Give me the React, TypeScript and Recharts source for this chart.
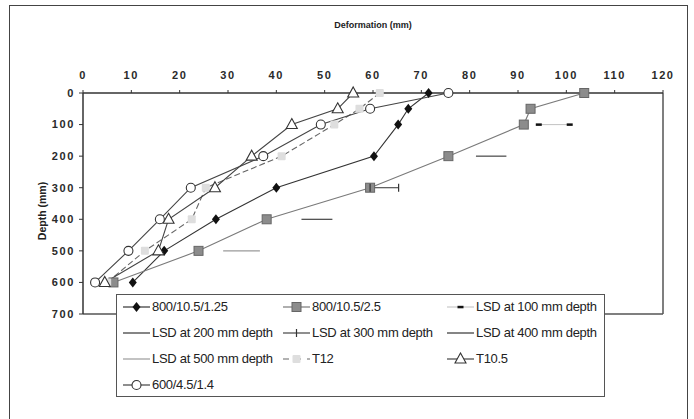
import React from "react"
import { LineChart, Line, XAxis, YAxis, ReferenceLine } from "recharts"

// depth (mm) shared by the test series
const depths = [0, 50, 100, 200, 300, 400, 500, 600]

// deformation (mm)
const def800_125 = [71.5, 67.3, 65.2, 60.2, 40, 27.5, 16.8, 10.3]
const def800_25 = [103.7, 92.6, 91.2, 75.6, 59.4, 38, 23.9, 6.3]
const defT12 = [61.4, 57.2, 52, 41.1, 25.4, 22.5, 12.8, 5]
const defT105 = [55.9, 52.7, 43.2, 34.9, 27.3, 17.7, 15.6, 4.5]
const def600 = [75.6, 59.4, 49.2, 37.3, 22.3, 15.9, 9.4, 2.5]

// LSD bars: [start, end] deformation at a given depth
const lsd100 = [94.3, 100.7]
const lsd200 = [81.3, 87.6]
const lsd300 = [59.4, 65.3]
const lsd400 = [45.2, 51.6]
const lsd500 = [29, 36.6]

const xTicks = [0, 10, 20, 30, 40, 50, 60, 70, 80, 90, 100, 110, 120]
const yTicks = [0, 100, 200, 300, 400, 500, 600, 700]

type MarkerKind = "diamond" | "square" | "dash" | "plus" | "light" | "triangle" | "circle" | "none"

interface Series {
  name: string
  data: { x: number; y: number }[]
  stroke: string
  dash?: string
  marker: MarkerKind
}

const pts = (xs: number[], ys: number[]) => xs.map((x, i) => ({ x, y: ys[i] }))
const bar = (xs: number[], depth: number) => xs.map((x) => ({ x, y: depth }))

const series: Series[] = [
  { name: "800/10.5/1.25", data: pts(def800_125, depths), stroke: "#333", marker: "diamond" },
  { name: "800/10.5/2.5", data: pts(def800_25, depths), stroke: "#7a7a7a", marker: "square" },
  { name: "LSD at 100 mm depth", data: bar(lsd100, 100), stroke: "#c8c8c8", marker: "dash" },
  { name: "LSD at 200 mm depth", data: bar(lsd200, 200), stroke: "#333", marker: "none" },
  { name: "LSD at 300 mm depth", data: bar(lsd300, 300), stroke: "#444", marker: "plus" },
  { name: "LSD at 400 mm depth", data: bar(lsd400, 400), stroke: "#333", marker: "none" },
  { name: "LSD at 500 mm depth", data: bar(lsd500, 500), stroke: "#9a9a9a", marker: "none" },
  { name: "T12", data: pts(defT12, depths), stroke: "#666", dash: "6 3", marker: "light" },
  { name: "T10.5", data: pts(defT105, depths), stroke: "#444", marker: "triangle" },
  { name: "600/4.5/1.4", data: pts(def600, depths), stroke: "#444", marker: "circle" },
]

function Marker({ kind, cx, cy }: { kind: MarkerKind; cx: number; cy: number }) {
  switch (kind) {
    case "diamond":
      return <polygon points={`${cx},${cy - 5} ${cx + 4},${cy} ${cx},${cy + 5} ${cx - 4},${cy}`} fill="#111" />
    case "square":
      return <rect x={cx - 4.5} y={cy - 4.5} width={9} height={9} fill="#8c8c8c" stroke="#666" />
    case "dash":
      return <rect x={cx - 3} y={cy - 1.2} width={6} height={2.5} fill="#111" />
    case "plus":
      return <line x1={cx} y1={cy - 4} x2={cx} y2={cy + 4} stroke="#333" strokeWidth={1.2} />
    case "light":
      return <rect x={cx - 4} y={cy - 4} width={8} height={8} rx={1} fill="#dedede" />
    case "triangle":
      return (
        <polygon
          points={`${cx},${cy - 6} ${cx + 5.5},${cy + 4} ${cx - 5.5},${cy + 4}`}
          fill="#fff"
          stroke="#333"
          strokeWidth={1.1}
        />
      )
    case "circle":
      return <circle cx={cx} cy={cy} r={4.5} fill="#fff" stroke="#333" strokeWidth={1.1} />
    default:
      return null
  }
}

function makeDot(kind: MarkerKind) {
  return (props: any) => (
    <g key={`d-${props.index}-${props.cx}`}>
      {props.cx != null && <Marker kind={kind} cx={props.cx} cy={props.cy} />}
    </g>
  )
}

function LegendIcon({ s }: { s: Series }) {
  return (
    <svg width={29} height={14} style={{ flex: "none" }}>
      <line x1={1} y1={7} x2={28} y2={7} stroke={s.stroke} strokeWidth={1.2} strokeDasharray={s.dash ? "6 6" : undefined} />
      <Marker kind={s.marker} cx={14.5} cy={7} />
    </svg>
  )
}

const tickStyle = {
  fill: "#2a2a2a",
  fontSize: 11,
  fontWeight: "bold" as const,
  letterSpacing: 1.6,
  fontFamily: "Liberation Sans, Arial, sans-serif",
}

export default function App() {
  return (
    <div style={{ position: "absolute", left: 0, top: 0, width: 694, height: 419, background: "#fff" }}>
      <div
        style={{
          position: "absolute",
          left: 9,
          top: 5,
          width: 677,
          height: 414,
          border: "1.5px solid #444",
          borderBottom: "none",
        }}
      />
      <div
        style={{
          position: "absolute",
          left: 0,
          width: 746,
          top: 20,
          textAlign: "center",
          font: "bold 9px Liberation Sans, Arial, sans-serif",
          color: "#222",
        }}
      >
        Deformation (mm)
      </div>
      <div
        style={{
          position: "absolute",
          left: 42,
          top: 211,
          transform: "translate(-50%, -50%) rotate(-90deg)",
          whiteSpace: "nowrap",
          font: "bold 10.5px Liberation Sans, Arial, sans-serif",
          color: "#222",
        }}
      >
        Depth (mm)
      </div>
      <div style={{ position: "absolute", left: 0, top: 0 }}>
        <LineChart width={694} height={419} margin={{ top: 63, right: 31, bottom: 105, left: 43 }}>
          <XAxis
            type="number"
            dataKey="x"
            orientation="top"
            domain={[0, 120]}
            ticks={xTicks}
            height={30}
            tick={tickStyle}
            tickSize={3}
            tickMargin={11}
            axisLine={{ stroke: "#333", strokeWidth: 1.5 }}
            tickLine={{ stroke: "#333" }}
            allowDataOverflow
          />
          <YAxis
            type="number"
            dataKey="y"
            reversed
            domain={[0, 700]}
            ticks={yTicks}
            width={40}
            tick={tickStyle}
            tickSize={4}
            tickMargin={4}
            axisLine={{ stroke: "#333", strokeWidth: 1.5 }}
            tickLine={{ stroke: "#333" }}
          />
          <ReferenceLine x={120} stroke="#555" strokeWidth={1.5} />
          <ReferenceLine y={700} stroke="#555" strokeWidth={1.5} />
          {series.map((s) => (
            <Line
              key={s.name}
              data={s.data}
              dataKey="y"
              name={s.name}
              type="linear"
              stroke={s.stroke}
              strokeWidth={1.1}
              strokeDasharray={s.dash}
              dot={makeDot(s.marker)}
              activeDot={false}
              isAnimationActive={false}
            />
          ))}
        </LineChart>
      </div>
      <div
        style={{
          position: "absolute",
          left: 116,
          top: 294,
          width: 482,
          height: 101,
          border: "1.5px solid #555",
          background: "#fff",
          display: "grid",
          gridTemplateColumns: "160px 164px 152px",
          gridAutoRows: "26px",
          paddingLeft: 5,
          font: "13px Liberation Sans, Arial, sans-serif",
          color: "#222",
          letterSpacing: -0.3,
        }}
      >
        {series.map((s) => (
          <div
            key={s.name}
            style={{ display: "flex", alignItems: "center", whiteSpace: "nowrap", marginTop: -3 }}
          >
            <LegendIcon s={s} />
            <span style={{ marginLeft: 1 }}>{s.name}</span>
          </div>
        ))}
      </div>
    </div>
  )
}
